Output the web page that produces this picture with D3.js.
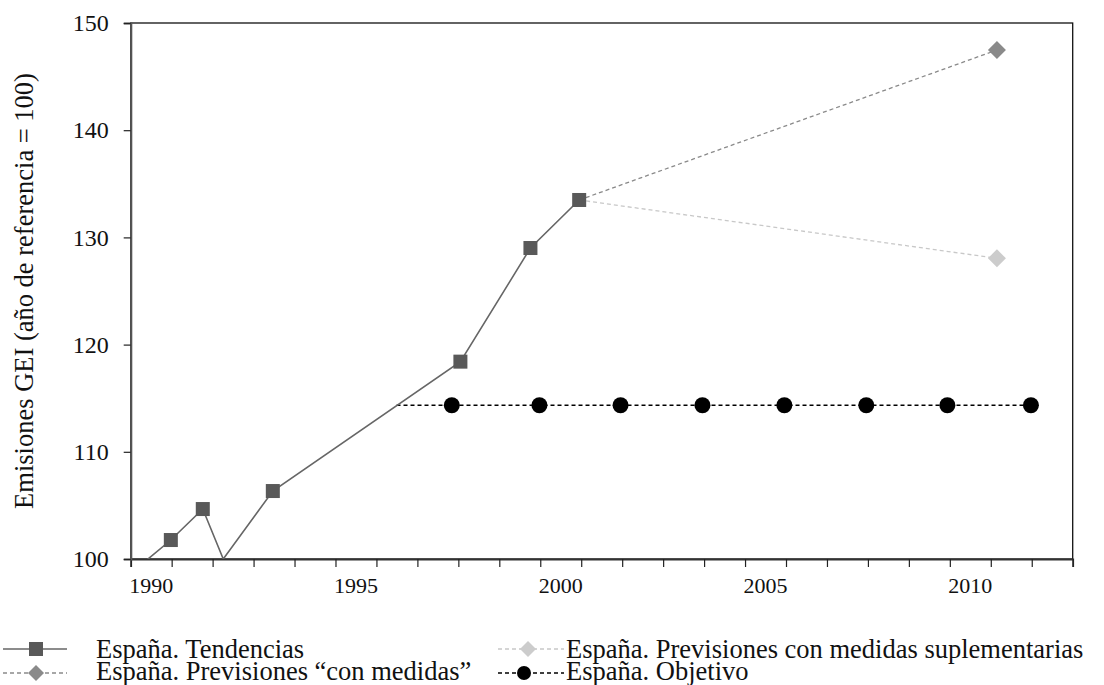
<!DOCTYPE html>
<html><head><meta charset="utf-8">
<script src="https://cdn.jsdelivr.net/npm/d3@7"></script>
<style>body{margin:0;background:#fff}svg{display:block}</style>
</head><body>
<svg id="c" width="1104" height="685"></svg>
<script>
// ---- data (x in year units, y in index with base year = 100) ----
const trendYears   = [1989.5, 1990.48, 1991.26, 1991.76, 1992.97, 1997.55, 1999.26, 2000.45];
const trendValues  = [98.66, 101.77, 104.66, 100.0, 106.34, 118.41, 129.01, 133.49];
const conMedidasYears  = [2000.45, 2010.65];
const conMedidasValues = [133.49, 147.48];
const suplemYears  = [2000.45, 2010.65];
const suplemValues = [133.49, 128.05];
const objetivoYears  = [1995.99, 1997.34, 1999.48, 2001.46, 2003.46, 2005.46, 2007.46, 2009.44, 2011.48];
const objetivoValues = [114.34, 114.34, 114.34, 114.34, 114.34, 114.34, 114.34, 114.34, 114.34];
const xLabelYears = [1990, 1995, 2000, 2005, 2010];
const yTicks = [100, 110, 120, 130, 140, 150];
const legendLabels = ["España. Tendencias", "España. Previsiones \u201ccon medidas\u201d",
  "España. Previsiones con medidas suplementarias", "España. Objetivo"];
const yTitle = "Emisiones GEI (año de referencia = 100)";

const FONT = "'Liberation Serif','Times New Roman',serif";
const svg = d3.select("#c");
const L = 130.7, R = 1072.7, T = 23, B = 559;
const x = d3.scaleLinear().domain([1989.5, 2012.5]).range([L, R]);
const y = d3.scaleLinear().domain([100, 150]).range([B, T]);

svg.append("defs").append("clipPath").attr("id", "pc")
  .append("rect").attr("x", L).attr("y", T).attr("width", R - L).attr("height", B - T);

// frame
svg.append("rect").attr("x", L).attr("y", T).attr("width", R - L).attr("height", B - T)
  .attr("fill", "none").attr("stroke", "#111").attr("stroke-width", 1.3);

// x axis ticks (band boundaries)
const bounds = d3.range(1989.5, 2013, 1);
const xAx = svg.append("g").attr("transform", `translate(0,${B})`)
  .call(d3.axisBottom(x).tickValues(bounds).tickSize(8).tickFormat(""));
xAx.select(".domain").attr("stroke", "#333").attr("stroke-width", 1.8);
xAx.selectAll(".tick line").attr("stroke", "#222").attr("stroke-width", 1.2);
svg.append("g").selectAll("text").data(xLabelYears).join("text")
  .attr("x", d => x(d)).attr("y", 593).attr("text-anchor", "middle")
  .attr("font-family", FONT).attr("font-size", 22).attr("fill", "#111").text(d => d);

// y axis
const yAx = svg.append("g").attr("transform", `translate(${L},0)`)
  .call(d3.axisLeft(y).tickValues(yTicks).tickSize(7).tickPadding(15));
yAx.select(".domain").attr("stroke", "#555").attr("stroke-width", 2.2);
yAx.selectAll(".tick line").attr("stroke", "#222").attr("stroke-width", 1.2);
yAx.selectAll(".tick text").attr("font-family", FONT).attr("font-size", 24).attr("fill", "#111");

svg.append("text").attr("transform", `translate(33,291) rotate(-90)`)
  .attr("text-anchor", "middle").attr("font-family", FONT).attr("font-size", 26.5)
  .attr("fill", "#111").text(yTitle);

const line = d3.line().x(d => x(d[0])).y(d => y(d[1]));
const zip = (a, b) => a.map((v, i) => [v, b[i]]);
const plot = svg.append("g").attr("clip-path", "url(#pc)");

// projections
plot.append("path").datum(zip(suplemYears, suplemValues)).attr("d", line)
  .attr("fill", "none").attr("stroke", "#c8c8c8").attr("stroke-width", 1.3).attr("stroke-dasharray", "4,3");
plot.append("path").datum(zip(conMedidasYears, conMedidasValues)).attr("d", line)
  .attr("fill", "none").attr("stroke", "#8a8a8a").attr("stroke-width", 1.3).attr("stroke-dasharray", "4,3");
// target
plot.append("path").datum(zip(objetivoYears, objetivoValues)).attr("d", line)
  .attr("fill", "none").attr("stroke", "#000").attr("stroke-width", 1.4).attr("stroke-dasharray", "4,3");
// trend
plot.append("path").datum(zip(trendYears, trendValues)).attr("d", line)
  .attr("fill", "none").attr("stroke", "#666").attr("stroke-width", 1.6);

const diamond = (cx, cy, r) => `M${cx},${cy - r}L${cx + r},${cy}L${cx},${cy + r}L${cx - r},${cy}Z`;

svg.append("g").selectAll("rect").data(zip(trendYears, trendValues).filter(d => d[1] > 100.5)).join("rect")
  .attr("x", d => x(d[0]) - 7).attr("y", d => y(d[1]) - 7).attr("width", 14).attr("height", 14).attr("fill", "#595959");
svg.append("g").selectAll("path").data(zip(conMedidasYears, conMedidasValues).slice(1)).join("path")
  .attr("d", d => diamond(x(d[0]), y(d[1]), 9)).attr("fill", "#8a8a8a");
svg.append("g").selectAll("path").data(zip(suplemYears, suplemValues).slice(1)).join("path")
  .attr("d", d => diamond(x(d[0]), y(d[1]), 9)).attr("fill", "#cccccc");
svg.append("g").selectAll("circle").data(zip(objetivoYears, objetivoValues).slice(1)).join("circle")
  .attr("cx", d => x(d[0])).attr("cy", d => y(d[1])).attr("r", 8).attr("fill", "#000");

// legend
const leg = [
  {sx: 3, w: 64, cx: 36, ty: 658, sy: 649, tx: 96, stroke: "#666", dash: null, mark: "square", fill: "#595959"},
  {sx: 3, w: 64, cx: 36, ty: 680, sy: 673, tx: 96, stroke: "#8a8a8a", dash: "4,3", mark: "diamond", fill: "#8a8a8a"},
  {sx: 498, w: 66, cx: 528, ty: 658, sy: 649, tx: 566, stroke: "#c8c8c8", dash: "4,3", mark: "diamond", fill: "#cccccc"},
  {sx: 498, w: 66, cx: 524, ty: 680, sy: 673, tx: 566, stroke: "#000", dash: "4,3", mark: "circle", fill: "#000"}
];
const lg = svg.append("g");
leg.forEach((o, i) => {
  const g = lg.append("g");
  g.append("line").attr("x1", o.sx).attr("x2", o.sx + o.w).attr("y1", o.sy).attr("y2", o.sy)
    .attr("stroke", o.stroke).attr("stroke-width", 1.4).attr("stroke-dasharray", o.dash);
  const cx = o.cx;
  if (o.mark === "square") g.append("rect").attr("x", cx - 7).attr("y", o.sy - 7).attr("width", 14).attr("height", 14).attr("fill", o.fill);
  if (o.mark === "diamond") g.append("path").attr("d", diamond(cx, o.sy, 8)).attr("fill", o.fill);
  if (o.mark === "circle") g.append("circle").attr("cx", cx).attr("cy", o.sy).attr("r", 7).attr("fill", o.fill);
  g.append("text").attr("x", o.tx).attr("y", o.ty).attr("font-family", FONT).attr("font-size", 26.5)
    .attr("fill", "#111").text(legendLabels[i]);
});
</script>
</body></html>
